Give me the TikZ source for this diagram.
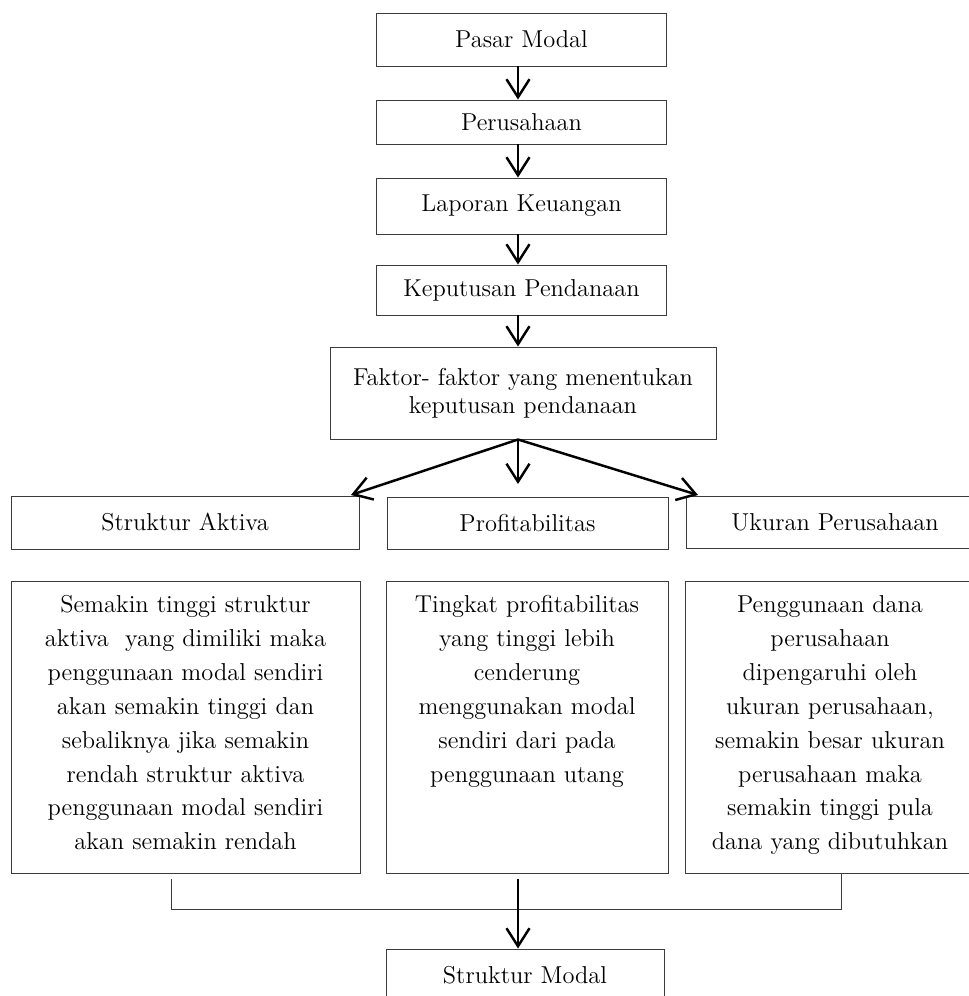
\documentclass[tikz,border=0pt]{standalone}
\usepackage{tikz}
\usetikzlibrary{arrows.meta, calc}
\definecolor{edge}{RGB}{60, 60, 60}
\newcommand{\boxfont}{\fontsize{13.9}{19.3}\selectfont}

\begin{document}
\begin{tikzpicture}[
    flowbox/.style={draw=edge, line width=0.55pt, align=center, inner sep=2pt, font=\boxfont},
    descbox/.style={flowbox, anchor=north, inner ysep=0pt, text height=0.62cm, text depth=5.22cm},
    arr/.style={black, line width=1.4pt, -{Straight Barb[length=0.36cm, width=0.46cm]}},
    link/.style={edge, line width=0.55pt}
  ]

  \useasboundingbox (0, 0) rectangle (19.38, -19.92);

  \coordinate (axis) at (10.36, 0);

  \foreach \nm/\y/\h/\txt in {pasar/-0.79/1.06/Pasar Modal, perus/-2.44/0.88/Perusahaan,
                              lapor/-4.12/1.12/Laporan Keuangan, keput/-5.80/1.00/Keputusan Pendanaan} {
    \node[flowbox, minimum width=5.8cm, minimum height=\h cm] (\nm) at (10.43, \y) {\txt};
  }

  \node[flowbox, minimum width=7.72cm, minimum height=1.84cm, font=\fontsize{13.9}{16}\selectfont]
    (faktor) at (10.46, -7.86) {Faktor- faktor yang menentukan\\ keputusan pendanaan};

  \foreach \a/\b in {pasar/perus, perus/lapor, lapor/keput, keput/faktor} {
    \draw[arr] (\a.south -| axis) -- (\b.north -| axis);
  }

  \node[flowbox, minimum width=6.96cm, minimum height=1.06cm] (aktiva) at (3.70, -10.45) {Struktur Aktiva};
  \node[flowbox, minimum width=5.62cm, minimum height=1.04cm] (profit) at (10.55, -10.46) {Profitabilitas};
  \node[flowbox, minimum width=5.96cm, minimum height=1.04cm] (ukuran) at (16.70, -10.44) {Ukuran Perusahaan};

  \coordinate (tipL) at (7.02, -9.90);
  \coordinate (tipM) at (10.36, -9.68);
  \coordinate (tipR) at (13.96, -9.90);
  \foreach \t in {tipL, tipM, tipR} {
    \draw[arr] (faktor.south -| axis) -- (\t);
  }

  \node[descbox, text width=6.7cm, minimum width=6.98cm] (descA) at (3.71, -11.62)
    {Semakin tinggi struktur\\ aktiva~ yang dimiliki maka\\ penggunaan modal sendiri\\ akan semakin tinggi dan\\
     sebaliknya jika semakin\\ rendah struktur aktiva\\ penggunaan modal sendiri\\ akan semakin rendah};
  \node[descbox, text width=5.4cm, minimum width=5.64cm] (descB) at (10.54, -11.62)
    {Tingkat profitabilitas\\ yang tinggi lebih\\ cenderung\\ menggunakan modal\\ sendiri dari pada\\ penggunaan utang};
  \node[descbox, text width=5.5cm, minimum width=5.80cm] (descC) at (16.60, -11.62)
    {Penggunaan dana\\ perusahaan\\ dipengaruhi oleh\\ ukuran perusahaan,\\ semakin besar ukuran\\
     perusahaan maka\\ semakin tinggi pula\\ dana yang dibutuhkan};

  \node[flowbox, minimum width=5.56cm, minimum height=1.04cm] (modal) at (10.50, -19.50) {Struktur Modal};

  % merge the three columns into one line
  \coordinate (brL) at (3.42, -17.58);
  \coordinate (brR) at (16.82, -17.46);
  \coordinate (bar) at (0, -18.18);
  \draw[link] (brL) -- (brL |- bar) -- (brR |- bar) -- (brR);
  \draw[arr] (axis |- brL) -- (axis |- modal.north);

\end{tikzpicture}
\end{document}
